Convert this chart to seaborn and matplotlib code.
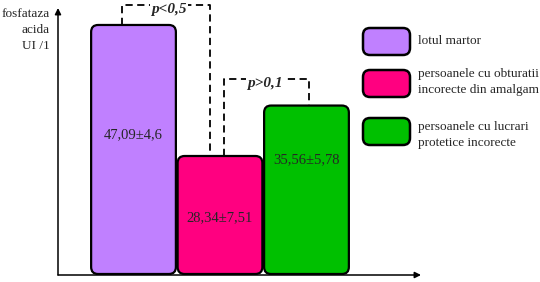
import matplotlib
matplotlib.use("Agg")
import matplotlib.pyplot as plt
import seaborn as sns
import pandas as pd
from matplotlib.patches import FancyBboxPatch

# ---- data ----
categories = ["lotul martor",
              "persoanele cu obturatii\nincorecte din amalgam",
              "persoanele cu lucrari\nprotetice incorecte"]
means = [47.09, 28.34, 35.56]
value_labels = ["47,09±4,6", "28,34±7,51", "35,56±5,78"]
p_labels = ["p<0,5", "p>0,1"]
ylabel_text = "fosfataza\nacida\nUI /1"

# ---- style / layout ----
colors = ["#C080FF", "#FF0080", "#00C000"]
W, H = 540, 282
sns.set_theme(style="white")
plt.rcParams["font.family"] = ["Liberation Serif", "DejaVu Serif"]

fig = plt.figure(figsize=(W / 100, H / 100), dpi=100)
ax_l, ax_r, ax_t, ax_b = 58, 421, 8, 275
ax = fig.add_axes([ax_l / W, (H - ax_b) / H, (ax_r - ax_l) / W, (ax_b - ax_t) / H])

df = pd.DataFrame({"cat": categories, "val": means})
sns.barplot(data=df, x="cat", y="val", hue="cat", palette=colors,
            width=0.98, legend=False, ax=ax, saturation=1)

ax.set_xlim(-0.873, 3.324)
ax.set_ylim(11.31, 49.52)
ax.set_xticks([])
ax.set_yticks([])
ax.set_xlabel("")
ax.set_ylabel("")
for s in ax.spines.values():
    s.set_visible(False)

fig.canvas.draw()
(x0p, y0p) = ax.transData.transform((0, 0))
(x1p, y1p) = ax.transData.transform((1, 1))
px_per_x = x1p - x0p
px_per_y = y1p - y0p
ybase = ax.get_ylim()[0] + 1.0 / px_per_y

bars = list(ax.patches)
geo = []
for p in bars:
    x, w, top = p.get_x(), p.get_width(), p.get_y() + p.get_height()
    fc = p.get_facecolor()
    p.remove()
    r = 7.0 / px_per_x
    fb = FancyBboxPatch((x, ybase), w, top - ybase,
                        boxstyle=f"round,pad=0,rounding_size={r}",
                        mutation_aspect=px_per_x / px_per_y,
                        facecolor=fc, edgecolor="black", linewidth=1.6,
                        zorder=3)
    ax.add_patch(fb)
    geo.append((x + w / 2, top))

# value labels
label_y = [31.35, 19.47, 27.77]
for (cx, top), t, ly in zip(geo, value_labels, label_y):
    ax.text(cx, ly, t, ha="center", va="center", fontsize=10.5, zorder=5)

# significance brackets
dash = dict(color="black", lw=1.3, linestyle=(0, (4, 2.5)), clip_on=False, zorder=4)
ptxt = dict(ha="center", va="center", fontsize=11, fontweight="bold",
            fontstyle="italic", zorder=6, clip_on=False,
            bbox=dict(facecolor="white", edgecolor="none", pad=0.8))
drop = 4.5 / px_per_y
# bracket 1: bar0 -> bar1
b1x0 = geo[0][0] - 0.13
b1x1 = geo[1][0] - 0.11
b1y = 49.95
ax.plot([b1x0, b1x0, b1x1, b1x1], [geo[0][1], b1y, b1y, geo[1][1]], **dash)
ax.text((b1x0 + b1x1) / 2 + 0.03, b1y - drop, p_labels[0], **ptxt)
# bracket 2: bar1 -> bar2
b2x0 = geo[1][0] + 0.045
b2x1 = geo[2][0] + 0.03
b2y = 39.36
ax.plot([b2x0, b2x0, b2x1, b2x1], [geo[1][1], b2y, b2y, geo[2][1]], **dash)
ax.text((b2x0 + b2x1) / 2 - 0.02, b2y - drop, p_labels[1], **ptxt)

# axes arrows
arrow = dict(arrowstyle="-|>", color="black", lw=1.1, mutation_scale=9,
             shrinkA=0, shrinkB=0)
ax.annotate("", xy=(0, 1), xytext=(0, 0), xycoords="axes fraction", arrowprops=arrow)
ax.annotate("", xy=(1, 0), xytext=(0, 0), xycoords="axes fraction", arrowprops=arrow)

# y label
fig.text(50 / W, 1 - 8 / H, ylabel_text, ha="right", va="top", fontsize=9.5,
         linespacing=1.45, multialignment="right")

# legend
leg_boxes = [(363, 28), (363, 70), (363, 118)]
text_y = [41, 82, 135]
for (bx, by), c, lab, ty in zip(leg_boxes, colors, categories, text_y):
    fb = FancyBboxPatch((bx / 100, (H - by - 27) / 100), 47 / 100, 27 / 100,
                        boxstyle="round,pad=0,rounding_size=0.07",
                        transform=fig.dpi_scale_trans,
                        facecolor=c, edgecolor="black", linewidth=1.8)
    fig.add_artist(fb)
    fig.text(418 / W, 1 - ty / H, lab, ha="left", va="center", fontsize=9.5,
             linespacing=1.5)

fig.savefig("out.png", dpi=100, facecolor="white")
